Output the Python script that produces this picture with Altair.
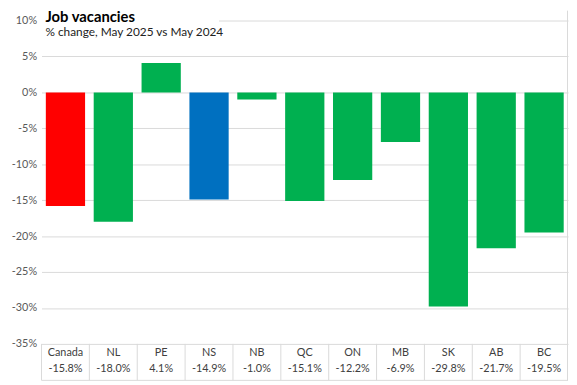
import altair as alt
import pandas as pd

title_text = "Job vacancies"
subtitle_text = "% change, May 2025 vs May 2024"
categories = ["Canada", "NL", "PE", "NS", "NB", "QC", "ON", "MB", "SK", "AB", "BC"]
values = [-15.8, -18.0, 4.1, -14.9, -1.0, -15.1, -12.2, -6.9, -29.8, -21.7, -19.5]
groups = ["canada", "prov", "prov", "ns", "prov", "prov", "prov", "prov", "prov", "prov", "prov"]
y_ticks = [10, 5, 0, -5, -10, -15, -20, -25, -30, -35]

color_map = {"canada": "#FF0000", "prov": "#00B050", "ns": "#0070C0"}

df = pd.DataFrame({
    "cat": categories,
    "value": values,
    "group": groups,
    "label": [f"{v:.1f}%" for v in values],
})

W, H = 534, 328
FONT = "Lato"

xenc = alt.X("cat:N", sort=categories, axis=None,
             scale=alt.Scale(paddingInner=0, paddingOuter=0))

base = alt.Chart(df)

bars = base.mark_bar(width={"band": 0.82}).encode(
    x=xenc,
    y=alt.Y("value:Q", scale=alt.Scale(domain=[-35, 10], nice=False),
            axis=alt.Axis(values=y_ticks, title=None, grid=True, gridColor="#d9d9d9",
                          gridWidth=1, domain=False, ticks=False, labelPadding=5,
                          labelExpr="datum.value + '%'", labelColor="#595959",
                          labelFontSize=11, labelFont=FONT)),
    color=alt.Color("group:N", scale=alt.Scale(domain=list(color_map.keys()),
                                               range=list(color_map.values())), legend=None),
)

# white box behind the title, hiding the top gridline
title_bg = alt.Chart(pd.DataFrame({"t": [title_text]})).mark_rect(color="white").encode(
    x=alt.value(0), x2=alt.value(180), y=alt.value(-10), y2=alt.value(19)
)

title = alt.Chart(pd.DataFrame({"t": [title_text]})).mark_text(
    align="left", baseline="alphabetic", fontSize=15, fontWeight="bold", font=FONT, color="black"
).encode(x=alt.value(4), y=alt.value(1), text="t:N")

subtitle = alt.Chart(pd.DataFrame({"t": [subtitle_text]})).mark_text(
    align="left", baseline="alphabetic", fontSize=12, font=FONT, color="#222222"
).encode(x=alt.value(4), y=alt.value(15.5), text="t:N")

# data table under the chart
sep = base.mark_rule(color="#d9d9d9", strokeWidth=1).encode(
    x=alt.X("cat:N", sort=categories, axis=None, bandPosition=0,
            scale=alt.Scale(paddingInner=0, paddingOuter=0)),
    y=alt.value(H), y2=alt.value(H + 37),
)
right_border = alt.Chart(pd.DataFrame({"t": [1]})).mark_rule(color="#d9d9d9").encode(
    x=alt.value(W - 0.5), y=alt.value(-10), y2=alt.value(H + 37)
)
bottom_line = alt.Chart(pd.DataFrame({"t": [1]})).mark_rule(color="#d9d9d9").encode(
    x=alt.value(0), x2=alt.value(W), y=alt.value(H + 37)
)

cat_text = base.mark_text(fontSize=11, font=FONT, color="#404040", baseline="middle").encode(
    x=xenc, y=alt.value(H + 9), text="cat:N"
)
val_text = base.mark_text(fontSize=11, font=FONT, color="#404040", baseline="middle").encode(
    x=xenc, y=alt.value(H + 26), text="label:N"
)

chart = alt.layer(
    bars, title_bg, title, subtitle, sep, right_border, bottom_line, cat_text, val_text
).properties(
    width=W, height=H,
    autosize=alt.AutoSizeParams(type="none"),
    padding={"left": 34, "top": 10, "right": 1, "bottom": 40},
    background="white",
).configure_view(stroke=None)

chart.save("out.html", embed_options={"renderer": "svg", "actions": False})
